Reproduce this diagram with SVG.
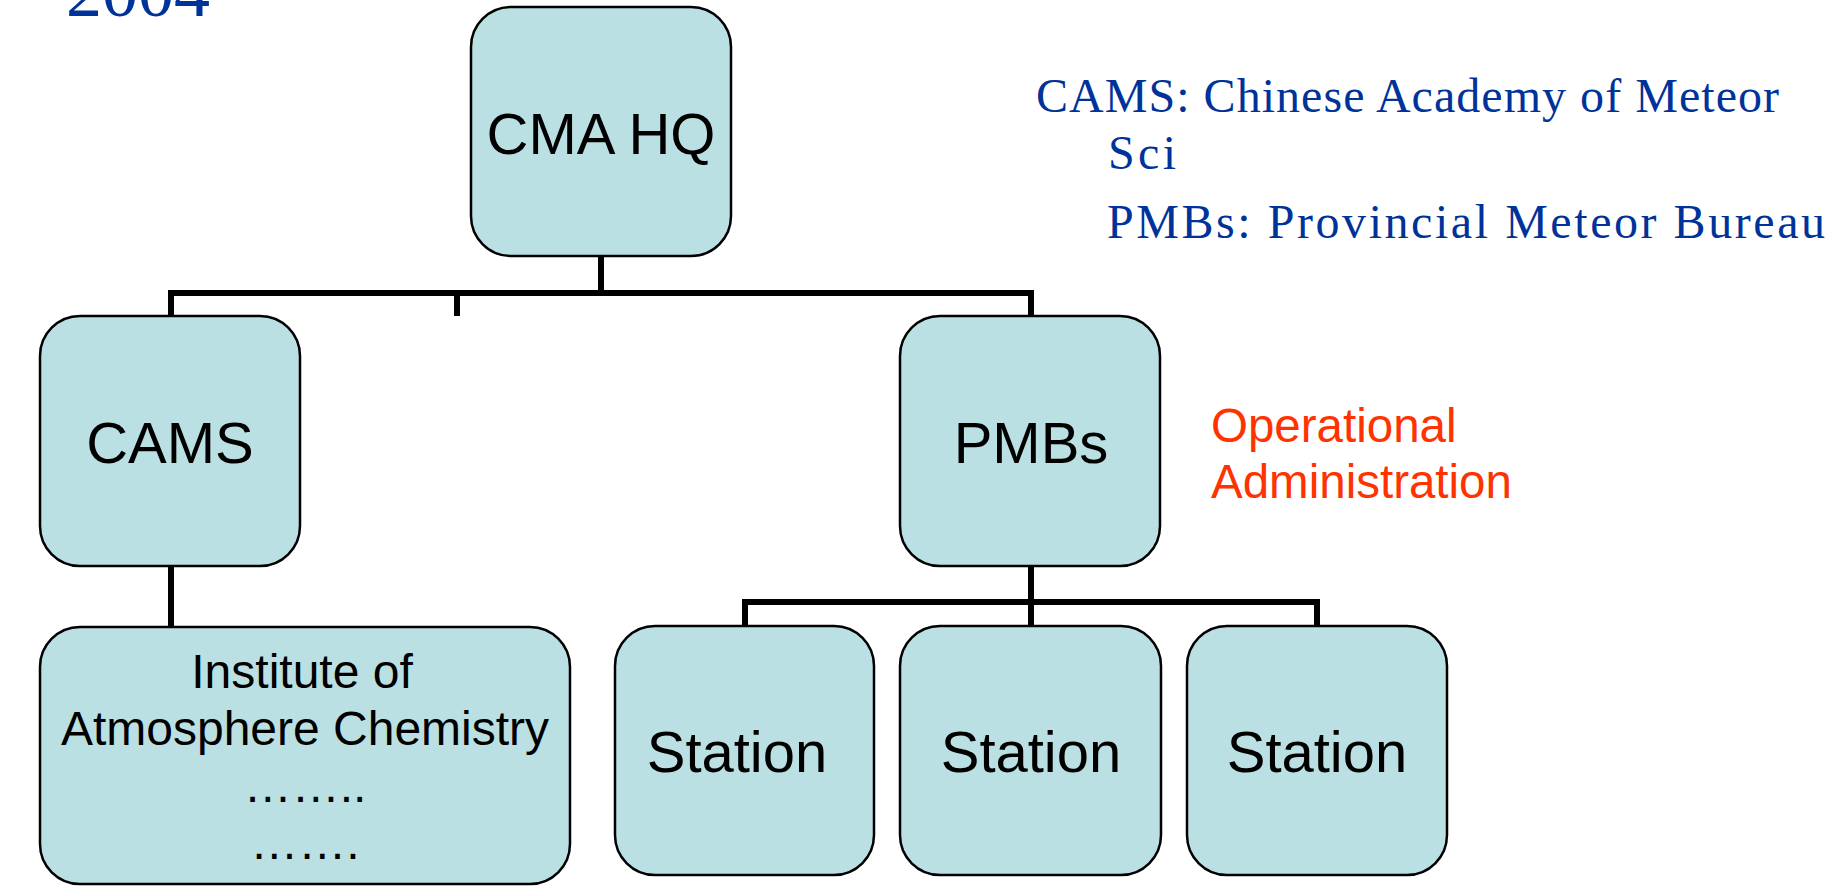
<svg xmlns="http://www.w3.org/2000/svg" width="1840" height="886" viewBox="0 0 1840 886">
<style>
.box{fill:#BBE0E3;stroke:#000;stroke-width:2.5}
.lbl{font-family:"Liberation Sans",Arial,sans-serif;font-size:58px;fill:#000;text-anchor:middle}
.sm{font-family:"Liberation Sans",Arial,sans-serif;font-size:48px;fill:#000;text-anchor:middle}
.note{font-family:"Liberation Serif","Times New Roman",serif;font-size:48px;fill:#003399}
.op{font-family:"Liberation Sans",Arial,sans-serif;font-size:47.5px;fill:#FF3300}
.conn{fill:none;stroke:#000;stroke-width:6;stroke-linejoin:miter;stroke-linecap:butt}
</style>
<rect width="1840" height="886" fill="#fff"/>
<text x="66" y="16" style="font-family:'Liberation Serif','Times New Roman',serif;font-size:72px;fill:#003399">2004</text>
<g id="connectors">
<polyline class="conn" points="601,256 601,293"/>
<polyline class="conn" points="171,316 171,293 1031,293 1031,316"/>
<polyline class="conn" points="457,293 457,316"/>
<polyline class="conn" points="171,566 171,627"/>
<polyline class="conn" points="1031,566 1031,602"/>
<polyline class="conn" points="745,626 745,602 1317,602 1317,626"/>
<polyline class="conn" points="1031,602 1031,626"/>
</g>
<g id="cma-hq">
<rect class="box" x="471" y="7" width="260" height="249" rx="40" ry="40"/>
<text class="lbl" x="601" y="154">CMA HQ</text>
</g>
<g id="cams">
<rect class="box" x="40" y="316" width="260" height="250" rx="40" ry="40"/>
<text class="lbl" x="170" y="463">CAMS</text>
</g>
<g id="pmbs">
<rect class="box" x="900" y="316" width="260" height="250" rx="40" ry="40"/>
<text class="lbl" x="1031" y="463">PMBs</text>
</g>
<g id="institute">
<rect class="box" x="40" y="627" width="530" height="257" rx="40" ry="40"/>
<text class="sm" x="302" y="688">Institute of</text>
<text class="sm" x="305" y="745">Atmosphere Chemistry</text>
<text class="sm" x="305" y="802">……..</text>
<text class="sm" x="305" y="859">…….</text>
</g>
<g id="station-1">
<rect class="box" x="615" y="626" width="259" height="249" rx="40" ry="40"/>
<text class="lbl" x="737" y="772">Station</text>
</g>
<g id="station-2">
<rect class="box" x="900" y="626" width="261" height="249" rx="40" ry="40"/>
<text class="lbl" x="1031" y="772">Station</text>
</g>
<g id="station-3">
<rect class="box" x="1187" y="626" width="260" height="249" rx="40" ry="40"/>
<text class="lbl" x="1317" y="772">Station</text>
</g>
<g id="notes">
<text class="note" x="1036" y="112" textLength="743" lengthAdjust="spacing">CAMS: Chinese Academy of Meteor</text>
<text class="note" x="1108" y="169" textLength="68" lengthAdjust="spacing">Sci</text>
<text class="note" x="1107" y="238" textLength="718" lengthAdjust="spacing">PMBs: Provincial Meteor Bureau</text>
</g>
<g id="operational">
<text class="op" x="1211" y="442">Operational</text>
<text class="op" x="1211" y="498">Administration</text>
</g>
</svg>
